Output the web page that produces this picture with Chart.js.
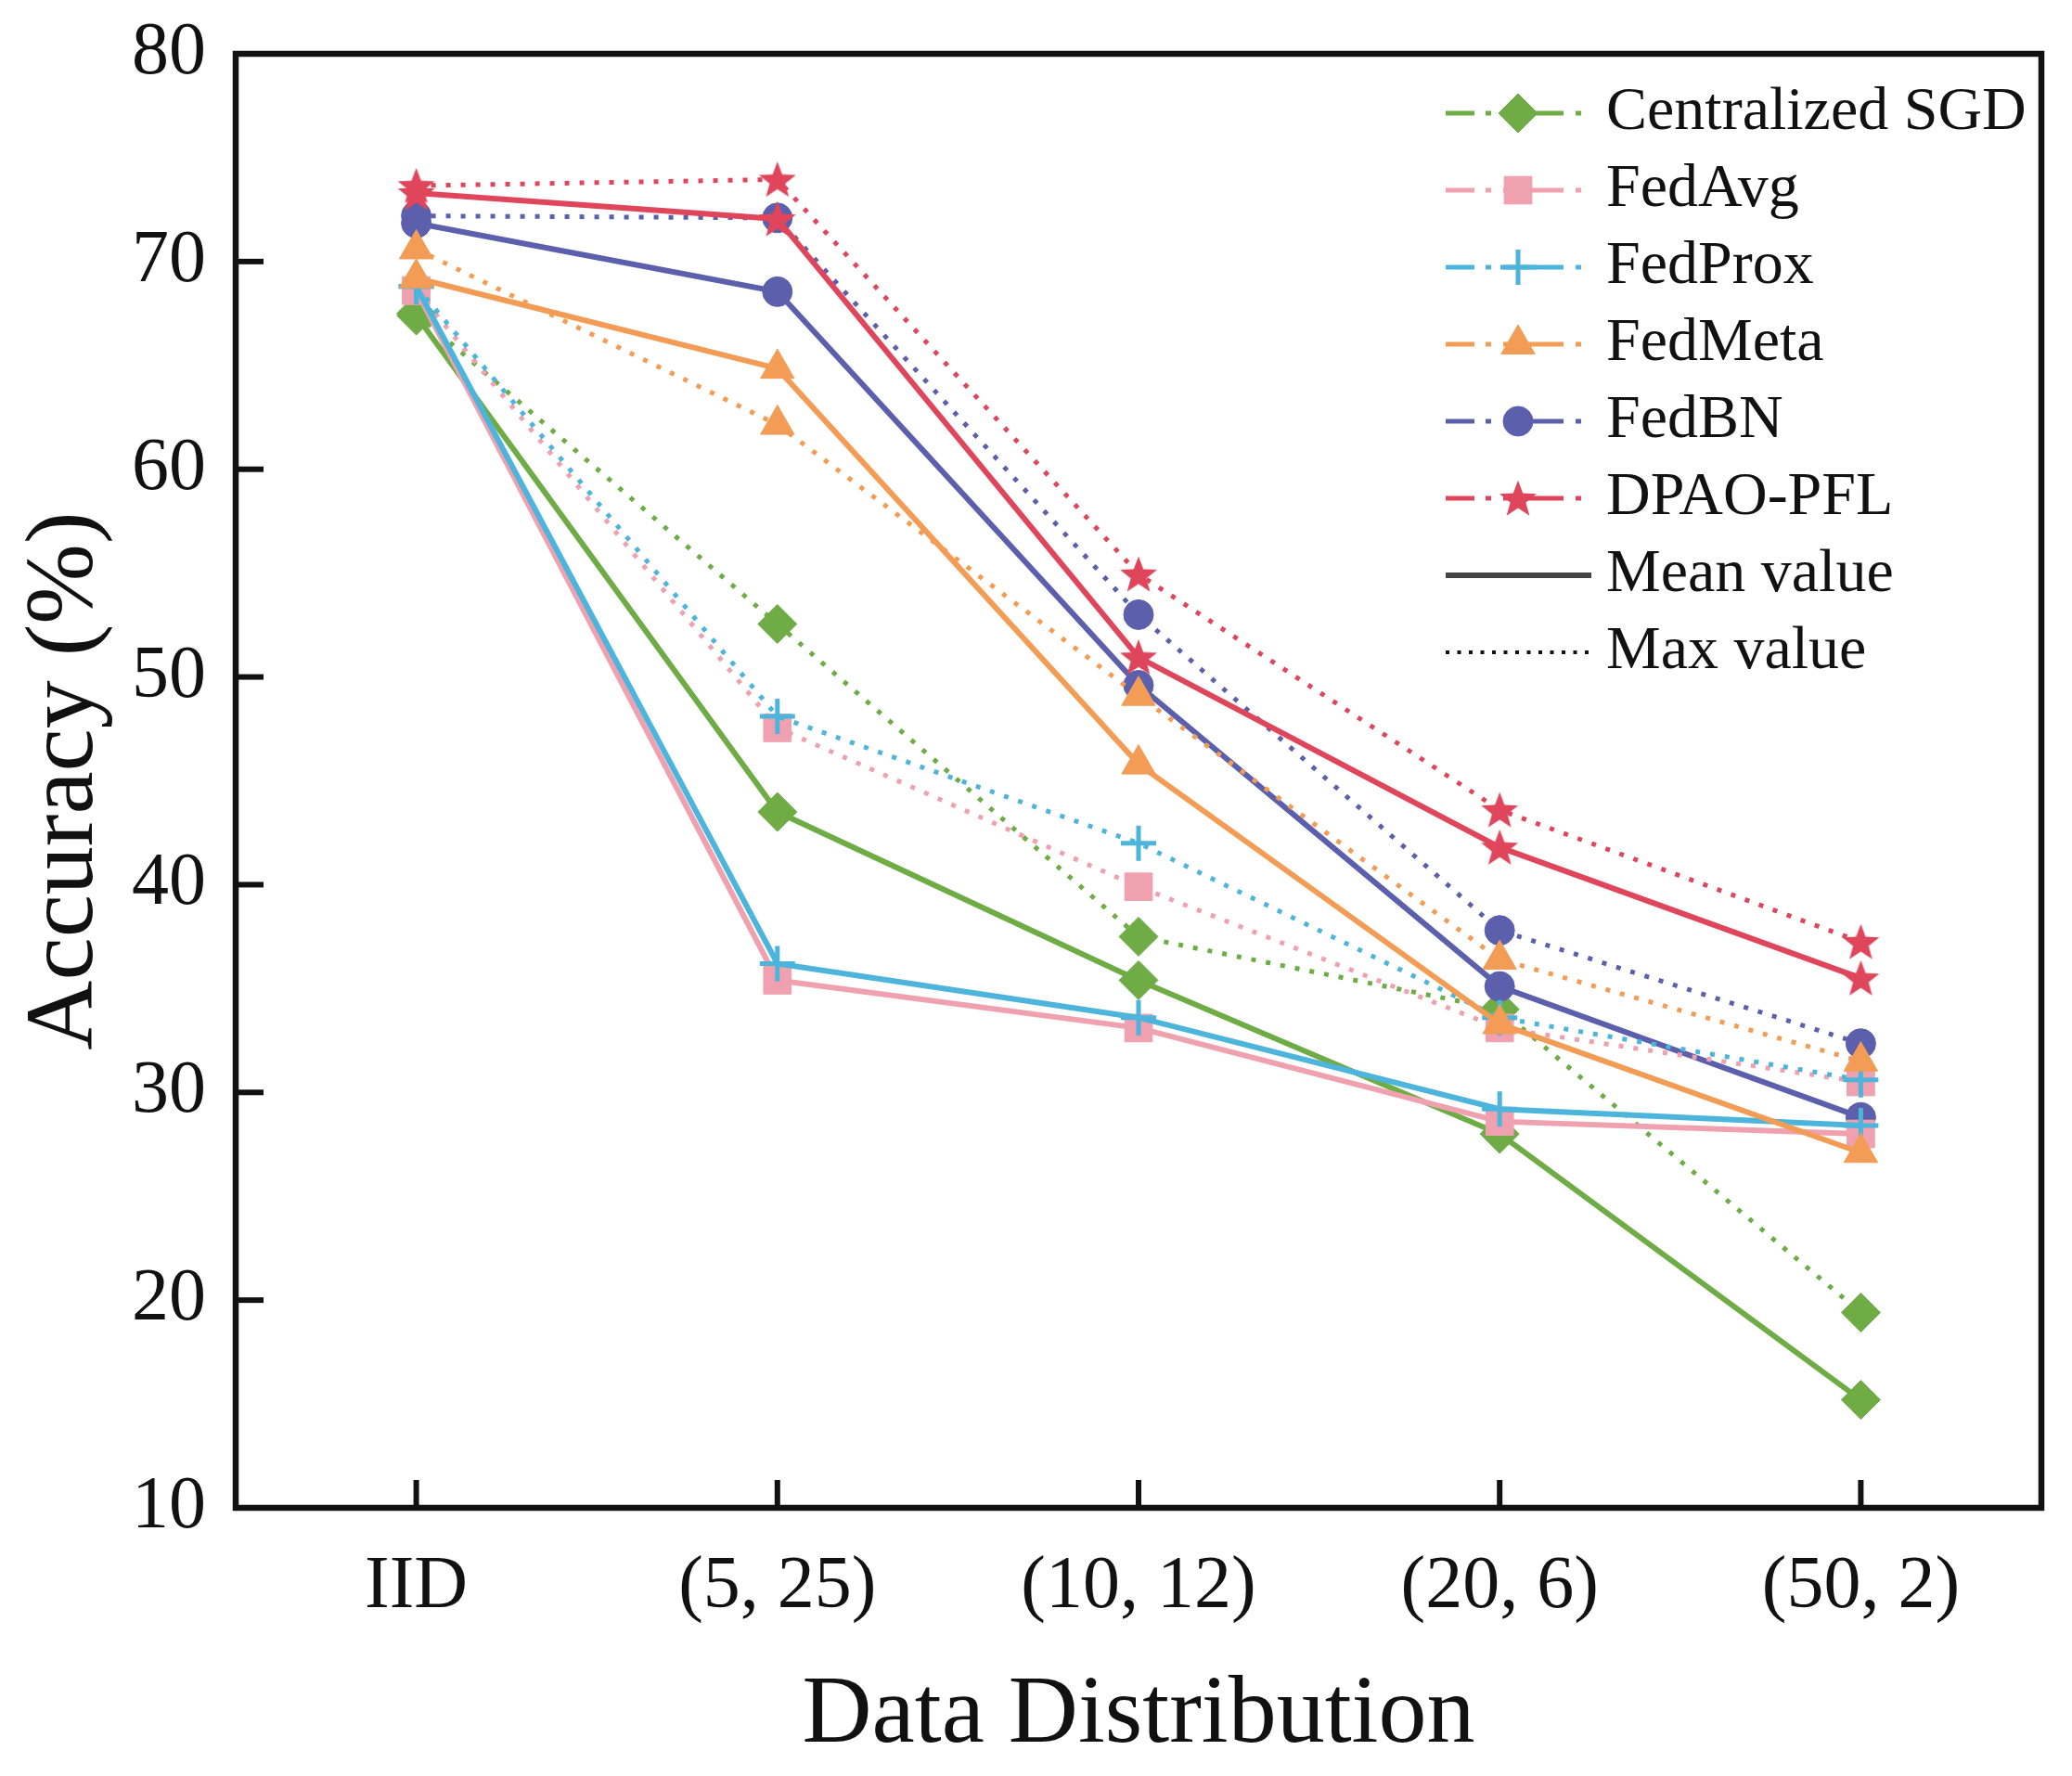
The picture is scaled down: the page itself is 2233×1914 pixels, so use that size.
<!DOCTYPE html>
<html>
<head>
<meta charset="utf-8">
<script src="https://cdn.jsdelivr.net/npm/chart.js@4.4.1/dist/chart.umd.min.js"></script>
<style>
  html, body { margin: 0; padding: 0; background: #ffffff; }
  #wrap { width: 2233px; height: 1914px; }
</style>
</head>
<body>
<div id="wrap"><canvas id="c" width="2233" height="1914"></canvas></div>
<script>
// ---------------- data ----------------
const categories = ['IID', '(5, 25)', '(10, 12)', '(20, 6)', '(50, 2)'];
const methods = ['Centralized SGD', 'FedAvg', 'FedProx', 'FedMeta', 'FedBN', 'DPAO-PFL'];

// mean accuracy (solid lines)
const meanSGD     = [67.4, 43.5, 35.4, 28.0, 15.2];
const meanFedAvg  = [68.6, 35.4, 33.1, 28.6, 28.0];
const meanFedProx = [68.8, 36.2, 33.6, 29.2, 28.4];
const meanFedMeta = [69.2, 64.85, 45.8, 33.3, 27.1];
const meanFedBN   = [71.85, 68.55, 49.6, 35.1, 28.8];
const meanDPAO    = [73.3, 72.05, 50.95, 41.8, 35.5];

// max accuracy (dotted lines)
const maxSGD     = [67.5, 52.55, 37.5, 34.0, 19.4];
const maxFedAvg  = [68.6, 47.55, 39.9, 33.1, 30.5];
const maxFedProx = [68.8, 48.1, 42.0, 33.6, 30.6];
const maxFedMeta = [70.6, 62.15, 49.1, 36.4, 31.5];
const maxFedBN   = [72.2, 72.1, 53.0, 37.8, 32.35];
const maxDPAO    = [73.65, 73.95, 54.95, 43.6, 37.25];

const yMin = 10, yMax = 80, yStep = 10;
const yTitle = 'Accuracy (%)';
const xTitle = 'Data Distribution';
const legendExtra = ['Mean value', 'Max value'];

// ---------------- styles ----------------
const colors = ['#6FAC46', '#F0A1AF', '#4DB5DB', '#F29C55', '#5C5FAB', '#E0465B'];
const FONT = "'Liberation Serif', 'Times New Roman', serif";

function makeStar(color, R) {
  const c = document.createElement('canvas');
  const s = Math.ceil(R * 2 + 4);
  c.width = s; c.height = s;
  const g = c.getContext('2d');
  const cx = s / 2, cy = s / 2 + R * 0.08;
  const r = R * 0.42;
  g.beginPath();
  for (let i = 0; i < 10; i++) {
    const a = -Math.PI / 2 + i * Math.PI / 5;
    const rr = (i % 2 === 0) ? R : r;
    const px = cx + rr * Math.cos(a), py = cy + rr * Math.sin(a);
    if (i === 0) g.moveTo(px, py); else g.lineTo(px, py);
  }
  g.closePath();
  g.fillStyle = color;
  g.fill();
  return c;
}

const pointStyles = ['rectRot', 'rect', 'cross', 'triangle', 'circle', makeStar(colors[5], 21)];
const pointRadii  = [21, 21, 19, 21, 16, 21];
const pointBW     = [1, 1, 5, 1, 1, 1];
const drawOrder   = [5, 3, 2, 1, 4, 0]; // lower = drawn on top

const meanData = [meanSGD, meanFedAvg, meanFedProx, meanFedMeta, meanFedBN, meanDPAO];
const maxData  = [maxSGD, maxFedAvg, maxFedProx, maxFedMeta, maxFedBN, maxDPAO];

const datasets = [];
methods.forEach((m, i) => {
  const common = {
    borderColor: colors[i],
    backgroundColor: colors[i],
    pointStyle: pointStyles[i],
    pointRadius: pointRadii[i],
    pointHoverRadius: pointRadii[i],
    pointBackgroundColor: colors[i],
    pointBorderColor: colors[i],
    pointBorderWidth: pointBW[i],
    fill: false,
    tension: 0,
    order: drawOrder[i]
  };
  datasets.push(Object.assign({}, common, {
    label: m + ' (max)', data: maxData[i], borderWidth: 5, borderDash: [5, 11], borderCapStyle: 'butt'
  }));
  datasets.push(Object.assign({}, common, {
    label: m + ' (mean)', data: meanData[i], borderWidth: 6
  }));
});

// ---------------- plugins ----------------
const framePlugin = {
  id: 'frameTicks',
  afterDatasetsDraw(chart) {
    const ctx = chart.ctx, a = chart.chartArea;
    const xs = chart.scales.x, ys = chart.scales.y;
    ctx.save();
    ctx.strokeStyle = '#111';
    ctx.lineWidth = 6;
    ctx.lineCap = 'butt';
    // inward ticks
    ys.ticks.forEach((t, i) => {
      const py = ys.getPixelForTick(i);
      ctx.beginPath(); ctx.moveTo(a.left, py); ctx.lineTo(a.left + 30, py); ctx.stroke();
    });
    xs.ticks.forEach((t, i) => {
      const px = xs.getPixelForTick(i);
      ctx.beginPath(); ctx.moveTo(px, a.bottom); ctx.lineTo(px, a.bottom - 30); ctx.stroke();
    });
    // frame
    ctx.lineWidth = 6.5;
    ctx.strokeRect(a.left, a.top, a.right - a.left, a.bottom - a.top);
    ctx.restore();
  },
  afterDraw(chart) {
    const ctx = chart.ctx;
    const x0 = 1558, xm = 1636, xt = 1731;
    const rowY0 = 122, rowStep = 83;
    ctx.save();
    ctx.font = '66px ' + FONT;
    ctx.textBaseline = 'middle';
    ctx.textAlign = 'left';
    methods.forEach((m, i) => {
      const y = rowY0 + i * rowStep;
      ctx.strokeStyle = colors[i];
      ctx.fillStyle = colors[i];
      ctx.lineWidth = 5;
      ctx.lineCap = 'butt';
      const segs = [[x0, 1589], [1601, 1607], [1620, 1685], [1698, 1704]];
      segs.forEach(s => { ctx.beginPath(); ctx.moveTo(s[0], y); ctx.lineTo(s[1], y); ctx.stroke(); });
      ctx.lineWidth = pointBW[i];
      Chart.helpers.drawPoint(ctx, {
        pointStyle: pointStyles[i], radius: pointRadii[i], rotation: 0, borderWidth: pointBW[i]
      }, xm, y);
      ctx.fillStyle = '#111';
      ctx.fillText(m, xt, y);
    });
    // Mean value
    let y = rowY0 + 6 * rowStep;
    ctx.strokeStyle = '#444'; ctx.lineWidth = 6;
    ctx.beginPath(); ctx.moveTo(x0, y); ctx.lineTo(1715, y); ctx.stroke();
    ctx.fillStyle = '#111'; ctx.fillText(legendExtra[0], xt, y);
    // Max value
    y = rowY0 + 7 * rowStep;
    ctx.strokeStyle = '#111'; ctx.lineWidth = 4; ctx.setLineDash([4, 8.5]);
    ctx.beginPath(); ctx.moveTo(x0, y); ctx.lineTo(1712, y); ctx.stroke();
    ctx.setLineDash([]);
    ctx.fillText(legendExtra[1], xt, y);
    ctx.restore();
  }
};

// ---------------- chart ----------------
new Chart(document.getElementById('c'), {
  type: 'line',
  data: { labels: categories, datasets: datasets },
  options: {
    responsive: false,
    animation: false,
    devicePixelRatio: 1,
    layout: { padding: { top: 58, right: 33, bottom: 0, left: 0 } },
    plugins: { legend: { display: false }, tooltip: { enabled: false } },
    scales: {
      x: {
        type: 'category',
        offset: true,
        grid: { display: false },
        border: { display: false },
        ticks: { color: '#111', font: { family: FONT, size: 80 }, padding: 30, maxRotation: 0, autoSkip: false },
        title: { display: true, text: xTitle, color: '#111', font: { family: FONT, size: 104 }, padding: { top: 0, bottom: 2 } },
        afterFit(s) { s.height = 289; }
      },
      y: {
        min: yMin, max: yMax,
        grid: { display: false },
        border: { display: false },
        ticks: { stepSize: yStep, color: '#111', font: { family: FONT, size: 80, lineHeight: 0.6 }, padding: 24 },
        title: { display: true, text: yTitle, color: '#111', font: { family: FONT, size: 104 }, padding: { top: 9, bottom: 0 } },
        afterFit(s) { s.width = 254; }
      }
    }
  },
  plugins: [framePlugin]
});
</script>
</body>
</html>
